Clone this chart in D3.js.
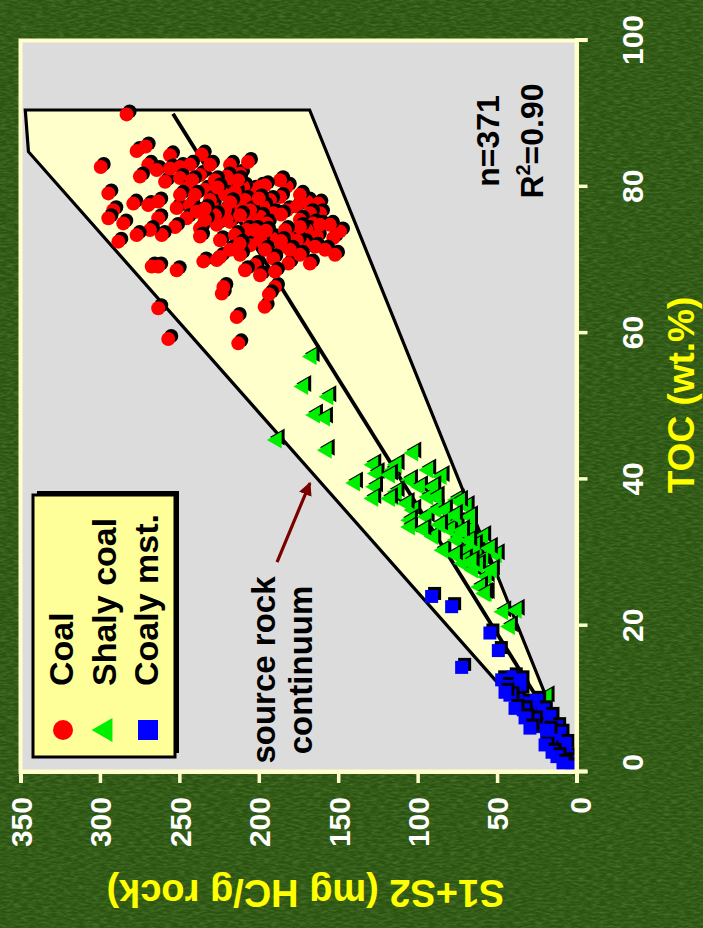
<!DOCTYPE html>
<html>
<head>
<meta charset="utf-8">
<script src="https://cdn.jsdelivr.net/npm/d3@7/dist/d3.min.js"></script>
<style>
  html, body { margin: 0; padding: 0; background: #2f5914; }
  svg { display: block; font-family: "Liberation Sans", Arial, Helvetica, sans-serif; font-weight: bold; }
</style>
</head>
<body>
<svg id="chart" width="703" height="928"></svg>
<script>
// ---- data: TOC (wt.%) vs. S1+S2 (mg HC/g rock) ----
const tocTicks = [0, 20, 40, 60, 80, 100];
const s12Ticks = [0, 50, 100, 150, 200, 250, 300, 350];
const seriesNames = ["Coal", "Shaly coal", "Coaly mst."];
const seriesColors = ["#ff0000", "#00ee00", "#0000ff"];

// [TOC, S1+S2]
const coal = [
  [89.9,283.2],[84.9,276.9],[85.5,271.2],[82.7,299.5],[84.3,255.9],[84.4,235.9],[83.0,269.6],[81.4,274.8],
  [82.3,264.3],[80.7,259.0],[82.5,255.9],[82.7,249.6],[83.0,243.3],[81.2,249.6],[79.8,245.4],[81.6,237.0],
  [83.0,218.1],[79.1,294.7],[77.7,279.0],[77.5,269.6],[78.0,263.3],[76.8,291.6],[75.7,294.7],[75.0,285.3],
  [75.7,263.3],[77.1,251.7],[78.9,249.6],[77.5,243.3],[75.7,245.4],[76.6,239.1],[74.5,252.7],[73.4,261.1],
  [74.1,268.5],[73.4,276.9],[72.5,288.4],[74.3,237.0],[73.2,237.0],[77.5,229.6],[74.8,226.5],[75.2,218.1],
  [79.3,224.4],[69.1,267.4],[69.1,263.3],[68.6,251.7],[69.8,234.9],[70.0,226.5],[65.4,223.3],[63.4,263.3],
  [59.2,257.0],[62.2,213.9],[58.6,212.9],
  [81.8,211.8],[79.6,203.5],[80.0,199.2],[80.0,209.8],[80.5,216.0],[81.4,220.2],[80.0,182.4],[78.6,186.6],
  [78.2,192.9],[77.3,197.2],[76.4,190.9],[76.8,182.4],[77.3,176.1],[78.0,169.8],[77.7,162.5],[76.4,161.5],
  [76.4,167.8],[75.5,174.1],[75.0,165.7],[73.6,178.3],[74.1,169.8],[73.2,163.5],[73.0,153.1],[73.9,148.9],
  [72.3,172.0],[71.8,164.6],[69.5,167.8],[73.0,191.9],[71.8,185.6],[70.2,190.9],[69.5,181.4],[75.5,220.2],
  [75.0,205.5],[74.1,207.6],[70.4,224.4],[66.3,222.3],[66.3,189.8],[77.7,213.9],[75.9,199.2],[75.0,195.0],
  [72.7,176.1],[74.5,174.1],[63.6,196.3],[65.3,193.6],
  [80.9,242.0],[79.6,233.9],[80.9,227.6],[78.2,230.7],[78.9,221.3],[79.3,215.0],[78.2,208.7],[76.8,205.5],
  [76.1,211.8],[76.8,221.3],[76.1,227.6],[75.5,233.9],[78.9,240.2],[72.7,224.4],[73.4,215.0],[72.0,205.5],
  [72.7,199.2],[74.1,202.4],[71.4,218.1],[70.7,211.8],[71.4,196.1],[69.3,202.4],[68.6,208.7],[67.9,199.2],
  [68.4,189.8],[74.1,183.5],[71.4,180.4],[70.7,174.1],[74.8,161.5],[74.8,155.2],[71.4,158.3],[70.7,152.0],
  [78.9,174.1],[80.9,186.6],[80.2,196.1],[83.0,230.7],[83.4,206.8],[80.9,213.1],
  [79.9,226.0],[77.9,218.0],[77.0,234.0],[78.4,200.0],[76.2,186.0],[74.0,195.5],[72.6,186.0],[72.2,212.0]
];

const shalyCoal = [
  [56.8,166.7],[52.7,172.0],[51.3,156.2],[48.8,164.6],[48.4,158.3],[45.4,188.7],[44.0,157.2],[39.5,139.4],
  [42.0,127.9],[40.8,125.8],[39.0,126.8],[41.3,115.3],[42.0,113.2],[37.4,127.9],[37.6,115.3],[43.6,102.7],
  [39.9,104.8],[35.8,102.7],[41.3,93.3],[40.4,84.9],[38.3,113.2],[36.7,106.9],[39.0,98.5],[37.6,93.3],
  [34.4,104.8],[33.5,104.8],[34.9,94.3],[35.8,88.0],[37.2,75.4],[36.3,69.1],[34.4,81.7],[34.0,75.4],
  [33.1,67.0],[32.2,58.7],[32.2,90.1],[30.3,83.8],[31.7,75.4],[30.3,69.1],[29.9,62.8],[29.7,50.2],
  [29.0,58.7],[28.5,71.3],[27.6,65.0],[26.7,56.5],[25.3,60.7],[24.4,56.5],[21.9,46.1],[22.1,37.6],
  [19.9,41.9],[33.1,96.4],[39.0,90.1],[33.1,79.6],[34.9,67.0],[37.6,88.0],[40.6,117.4],[37.4,117.4],
  [37.0,73.3],[24.4,57.6],[10.3,18.8],
  [35.8,82.8],[35.1,76.5],[33.8,85.9],[32.4,73.3],[31.0,63.9],[30.6,54.5],[29.0,70.2],[28.3,62.0],
  [27.6,53.2],[29.7,76.5],[31.6,67.5],[33.0,72.0],[28.8,66.0]
];

const coalyMst = [
  [24.0,91.2],[22.6,78.6],[19.0,54.5],[16.6,49.2],[14.3,72.3],[12.6,47.1],[13.0,39.8],[11.7,43.9],
  [11.2,35.6],[9.8,37.6],[9.4,31.3],[8.0,29.3],[7.1,25.1],[6.2,23.0],[5.3,18.8],[4.4,14.6],
  [3.0,10.4],[2.1,6.2],[1.4,4.1],[9.8,25.1],[8.5,20.9],[7.6,16.7],[6.2,12.5],[5.3,10.4],
  [3.9,7.2],[8.5,33.5],[7.1,27.2],
  [10.5,41.9],[8.7,38.7],[7.4,32.4],[6.0,29.3],[3.7,19.8],[2.7,15.4],[2.1,12.3],[1.2,8.5],
  [0.7,2.8],[12.6,35.6],[5.7,17.9],[10.9,45.0]
];

// envelope of the source rock continuum and the regression line through it
const envelope = [[0,0],[84.8,345],[90.5,347],[90.5,168],[0,0]];
const trendLine = [[1.5,0],[90,254]];
const arrowTail = [28.7,188.5];
const arrowHead = [39.5,167.8];
const statLines = ["n=371", "R", "2", "=0.90"];

// ---- layout ----
const W = 731.5, H = 556;          // plot size before the quarter turn
const svg = d3.select("#chart");
const defs = svg.append("defs");

// grainy backdrop
const grain = defs.append("filter").attr("id", "grain")
  .attr("x", 0).attr("y", 0).attr("width", "100%").attr("height", "100%");
grain.append("feTurbulence").attr("type", "fractalNoise")
  .attr("baseFrequency", "0.14 0.5").attr("numOctaves", 2).attr("seed", 7).attr("result", "n");
grain.append("feColorMatrix").attr("in", "n").attr("type", "matrix")
  .attr("values", "0 0 0 0 0.12  0 0 0 0 0.28  0 0 0 0 0.05  1.4 0 0 0 -0.5");

svg.append("rect").attr("width", 703).attr("height", 928).attr("fill", "#2b5311");
svg.append("rect").attr("width", 703).attr("height", 928).attr("filter", "url(#grain)").attr("opacity", 0.75);

// the whole chart is drawn on its side
const g = svg.append("g").attr("transform", `translate(20.5,772) rotate(-90)`);

const x = d3.scaleLinear().domain([0, 100]).range([0, W]);
const y = d3.scaleLinear().domain([0, 350]).range([H, 0]);

defs.append("clipPath").attr("id", "plotClip")
  .append("rect").attr("width", W).attr("height", H);

g.append("rect").attr("width", W).attr("height", H).attr("fill", "#dcdcdc");

const plot = g.append("g").attr("clip-path", "url(#plotClip)");
const line = d3.line().x(d => x(d[0])).y(d => y(d[1]));

plot.append("path").datum(envelope).attr("d", line)
  .attr("fill", "#ffffcc").attr("stroke", "#000").attr("stroke-width", 3.2)
  .attr("stroke-linejoin", "miter");
plot.append("path").datum(trendLine).attr("d", line)
  .attr("fill", "none").attr("stroke", "#000").attr("stroke-width", 3.8);

// marker shapes (local frame, triangle points toward larger S1+S2 side)
const tri = s => { const h = s * 0.866; return `M0,${-2*h/3}L${-s/2},${h/3}L${s/2},${h/3}Z`; };
const shapes = [
  (sel, c) => sel.append("circle").attr("r", 7).attr("fill", c),
  (sel, c) => sel.append("path").attr("d", tri(17)).attr("fill", c),
  (sel, c) => sel.append("rect").attr("x", -6.5).attr("y", -6.5).attr("width", 13).attr("height", 13).attr("fill", c)
];

[coal, shalyCoal, coalyMst].forEach((pts, i) => {
  const grp = plot.append("g");
  pts.forEach(p => {
    const m = grp.append("g").attr("transform", `translate(${x(p[0])},${y(p[1])})`);
    shapes[i](m.append("g").attr("transform", "translate(3,3)"), "#000");
    shapes[i](m, seriesColors[i]);
  });
});

// arrow toward the envelope edge
defs.append("marker").attr("id", "ah").attr("viewBox", "0 0 10 10")
  .attr("refX", 9).attr("refY", 5).attr("markerWidth", 4.2).attr("markerHeight", 4.2)
  .attr("orient", "auto").attr("markerUnits", "strokeWidth")
  .append("path").attr("d", "M0,0L10,5L0,10Z").attr("fill", "#7a0000");
plot.append("line")
  .attr("x1", x(arrowTail[0])).attr("y1", y(arrowTail[1]))
  .attr("x2", x(arrowHead[0])).attr("y2", y(arrowHead[1]))
  .attr("stroke", "#7a0000").attr("stroke-width", 3.2).attr("marker-end", "url(#ah)");

// annotation
const note = g.append("text").attr("fill", "#000").attr("font-size", 33).attr("text-anchor", "middle");
note.append("tspan").attr("x", 102).attr("y", 254).text("source rock");
note.append("tspan").attr("x", 102).attr("y", 291).text("continuum");

const st = g.append("text").attr("fill", "#000").attr("font-size", 32).attr("text-anchor", "middle");
st.append("tspan").attr("x", 631).attr("y", 478).text(statLines[0]);
const st2 = g.append("text").attr("fill", "#000").attr("font-size", 32).attr("text-anchor", "middle")
  .attr("x", 631).attr("y", 522);
st2.append("tspan").text(statLines[1]);
st2.append("tspan").attr("font-size", 20).attr("dy", -13).text(statLines[2]);
st2.append("tspan").attr("dy", 13).text(statLines[3]);

// legend
const lg = g.append("g");
lg.append("rect").attr("x", 19).attr("y", 16.5).attr("width", 262).attr("height", 142).attr("fill", "#000");
lg.append("rect").attr("x", 15).attr("y", 12.5).attr("width", 262).attr("height", 142)
  .attr("fill", "#ffff99").attr("stroke", "#000").attr("stroke-width", 3);
const legMarks = [
  (sel, c) => sel.append("circle").attr("r", 10).attr("fill", c),
  (sel, c) => sel.append("path").attr("d", tri(24)).attr("fill", c),
  (sel, c) => sel.append("rect").attr("x", -10).attr("y", -10).attr("width", 20).attr("height", 20).attr("fill", c)
];
seriesNames.forEach((name, i) => {
  const cy = 42.5 + i * 42.5;
  legMarks[i](lg.append("g").attr("transform", `translate(42,${cy})`), seriesColors[i]);
  lg.append("text").attr("x", 86).attr("y", cy + 10).attr("font-size", 34).attr("fill", "#000").text(name);
});

// frame
g.append("rect").attr("width", W).attr("height", H).attr("fill", "none")
  .attr("stroke", "#ffffcc").attr("stroke-width", 4);

// axes
const axisColor = "#ffffcc";
const xAxis = g.append("g").attr("transform", `translate(0,${H})`)
  .call(d3.axisBottom(x).tickValues(tocTicks).tickSize(11).tickFormat(d3.format("d")));
const yAxis = g.append("g")
  .call(d3.axisLeft(y).tickValues(s12Ticks).tickSize(11).tickFormat(d3.format("d")));
[xAxis, yAxis].forEach(a => {
  a.select(".domain").attr("stroke", axisColor).attr("stroke-width", 4);
  a.selectAll(".tick line").attr("stroke", axisColor).attr("stroke-width", 3.5);
  a.selectAll(".tick text").attr("fill", "#ffffff").attr("font-size", 30)
    .attr("font-family", "Liberation Sans, Arial, sans-serif").attr("font-weight", "bold");
});
xAxis.selectAll(".tick text").attr("y", 66).attr("dy", 0)
  .attr("dx", d => d === 0 ? 9 : 0);
yAxis.selectAll(".tick text").attr("x", -25)
  .attr("dy", d => d === 0 ? "0.46em" : "0.36em");

// axis titles
g.append("text").attr("x", 377).attr("y", 673).attr("text-anchor", "middle")
  .attr("fill", "#ffff00").attr("font-size", 37).text("TOC (wt.%)");
g.append("text").attr("transform", `translate(-108,285) rotate(-90)`).attr("text-anchor", "middle")
  .attr("fill", "#ffff00").attr("font-size", 38).text("S1+S2 (mg HC/g rock)");
</script>
</body>
</html>
